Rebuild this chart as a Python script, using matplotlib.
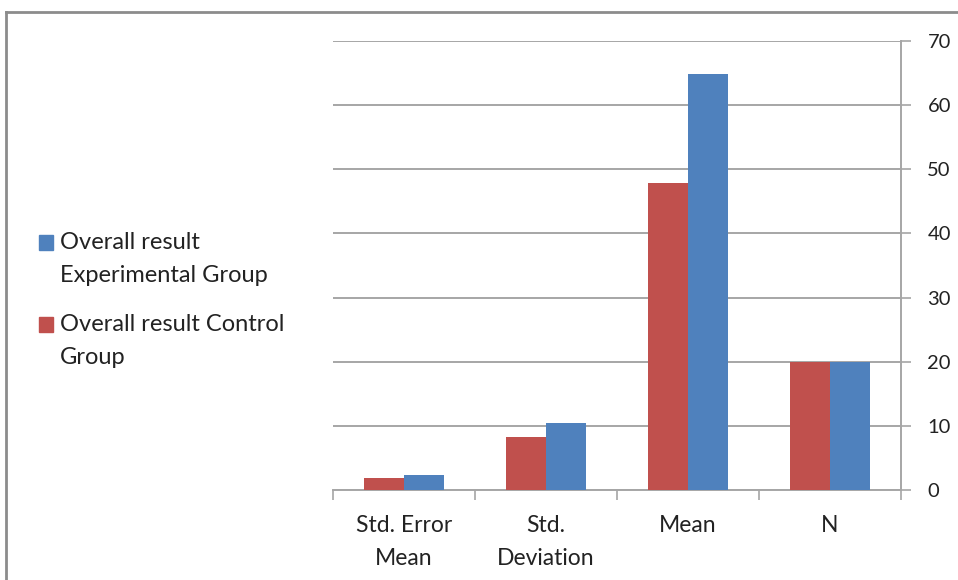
import numpy as np
import matplotlib.pyplot as plt
from matplotlib.patches import Rectangle

categories = ["Std. Error\nMean", "Std.\nDeviation", "Mean", "N"]
control = [1.85, 8.3, 47.8, 20]
experimental = [2.3, 10.5, 64.8, 20]
series_labels = ["Overall result\nExperimental Group", "Overall result Control\nGroup"]
yticks = [0, 10, 20, 30, 40, 50, 60, 70]

blue = "#4F81BD"
red = "#C0504D"
grid_col = "#A6A6A6"

plt.rcParams['font.family'] = ['Lato', 'DejaVu Sans']

fig = plt.figure(figsize=(9.58, 5.8), dpi=100)
ax = fig.add_axes([333 / 958, 1 - 490 / 580, (901 - 333) / 958, (490 - 41) / 580])

x = np.arange(len(categories))
w = 0.285
ax.bar(x - w / 2, control, w, color=red, zorder=3)
ax.bar(x + w / 2, experimental, w, color=blue, zorder=3)

ax.set_xlim(-0.5, len(categories) - 0.5)
ax.set_ylim(0, 70)

# y axis on the right
ax.yaxis.tick_right()
ax.set_yticks(yticks)
ax.tick_params(axis='y', length=7, width=1.2, color=grid_col, labelsize=14.5, pad=12, labelcolor='#222222')
ax.grid(axis='y', color=grid_col, linewidth=1.4, zorder=0)

# x ticks at category boundaries, labels at centres
ax.set_xticks(np.arange(-0.5, len(categories)))
ax.set_xticklabels([])
ax.set_xticks(x, minor=True)
ax.set_xticklabels(categories, minor=True, fontsize=16.5, linespacing=1.68, color='#222222')
ax.tick_params(axis='x', which='major', length=7, width=1.2, color=grid_col)
ax.tick_params(axis='x', which='minor', length=0, pad=18)

for s in ['left', 'top']:
    ax.spines[s].set_visible(False)
for s in ['right', 'bottom']:
    ax.spines[s].set_color(grid_col)
    ax.spines[s].set_linewidth(1.4)

# legend drawn on the left
colors = [blue, red]
ys = [243, 325]
for lab, col, yy in zip(series_labels, colors, ys):
    fig.patches.append(Rectangle((39 / 958, 1 - (yy + 7) / 580), 14 / 958, 15 / 580,
                                 transform=fig.transFigure, color=col, figure=fig))
    fig.text(60 / 958, 1 - (yy + 16) / 580, lab, fontsize=17, va='center', ha='left',
             linespacing=1.68, color='#222222')

# outer frame
fig.add_artist(plt.Line2D([5.5 / 958, 5.5 / 958], [0, 1 - 11.5 / 580], transform=fig.transFigure,
                          color='#8C8C8C', linewidth=2))
fig.add_artist(plt.Line2D([5.5 / 958, 1], [1 - 11.5 / 580, 1 - 11.5 / 580], transform=fig.transFigure,
                          color='#8C8C8C', linewidth=2))

fig.savefig("out.png", dpi=100)
